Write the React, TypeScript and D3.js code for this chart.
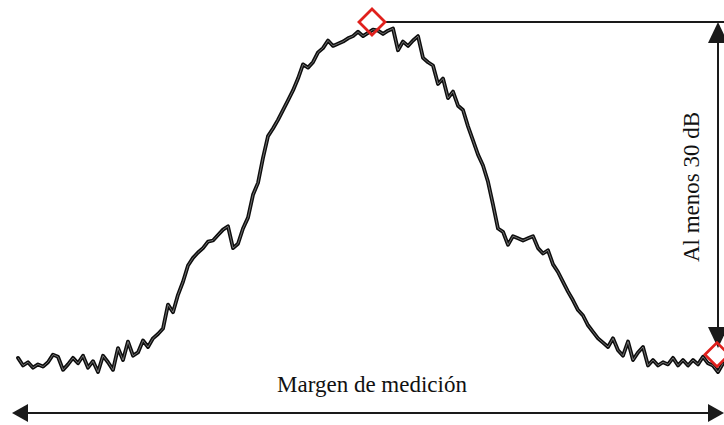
import React from "react";
import * as d3 from "d3";

// Measured trace level (dB relative to the peak), one value per sweep sample
const levelDb: number[] = [
  -30.9, -31.6, -31.3, -31.8, -31.5, -31.7, -31.3, -30.6, -30.8, -32.0,
  -31.5, -30.9, -31.4, -30.7, -31.8, -31.2, -32.2, -30.7, -31.3, -32.0,
  -30.0, -31.1, -29.4, -30.7, -30.4, -29.3, -29.9, -29.1, -28.7, -28.2,
  -26.0, -26.7, -25.1, -23.9, -22.4, -21.7, -21.2, -20.8, -20.2, -20.1,
  -19.6, -19.1, -18.8, -20.8, -20.4, -19.0, -18.0, -15.9, -14.8, -12.5,
  -10.5, -9.8, -9.0, -8.1, -7.2, -6.3, -5.2, -3.9, -4.2, -3.7,
  -2.8, -2.4, -1.7, -2.2, -2.0, -1.8, -1.5, -1.3, -0.9, -1.3,
  -1.0, -0.7, -0.8, -1.1, -0.8, -0.6, -2.6, -1.8, -2.2, -1.7,
  -1.3, -3.3, -3.7, -4.0, -5.7, -5.2, -7.0, -6.4, -7.7, -8.1,
  -9.6, -10.9, -12.2, -13.2, -14.7, -16.8, -19.0, -19.3, -20.5, -19.7,
  -19.9, -20.1, -19.9, -19.7, -20.8, -21.3, -21.0, -22.3, -23.0, -23.9,
  -24.8, -25.6, -26.5, -27.0, -27.9, -28.5, -29.1, -29.5, -29.9, -29.1,
  -30.2, -30.7, -29.4, -31.1, -30.4, -29.9, -31.6, -31.1, -31.6, -31.3,
  -31.5, -30.9, -31.6, -31.1, -31.6, -31.1, -31.5, -30.8, -31.4, -31.6,
  -32.2, -31.4,
];

// Annotation values
const peakMarker = { sample: 70.8, level: 0 };
const floorMarker = { sample: 139.8, level: -30.6 };
const rangeArrow = { top: 0, bottom: -30 };
const rangeLabel = "Al menos 30 dB";
const spanLabel = "Margen de medición";

const W = 724;
const H = 425;

export default function App() {
  const x = d3.scaleLinear().domain([0, levelDb.length - 1]).range([18, 723]);
  const y = d3.scaleLinear().domain([0, -30]).range([22, 348.1]);

  const line = d3
    .line<number>()
    .x((_, i) => x(i))
    .y((d) => y(d))
    .curve(d3.curveLinear);
  const path = line(levelDb) || "";

  const diamond = (cx: number, cy: number, r: number) =>
    `M${cx},${cy - r}L${cx + r},${cy}L${cx},${cy + r}L${cx - r},${cy}Z`;

  const px = x(peakMarker.sample);
  const py = y(peakMarker.level);
  const fx = x(floorMarker.sample);
  const fy = y(floorMarker.level);
  const ax = 718;
  const aTop = y(rangeArrow.top);
  const aBot = y(rangeArrow.bottom);
  const hy = 413;
  const lineColor = "#1a1a1a";

  return (
    <svg
      width={W}
      height={H}
      style={{ position: "absolute", left: 0, top: 0, background: "#fff" }}
      fontFamily="'Liberation Serif', 'Times New Roman', serif"
    >
      {/* horizontal reference from peak */}
      <line x1={px + 13} y1={py} x2={W} y2={py} stroke={lineColor} strokeWidth={2} />
      {/* vertical dynamic range arrow */}
      <line x1={ax} y1={aTop + 18} x2={ax} y2={aBot - 18} stroke={lineColor} strokeWidth={2} />
      <path d={`M${ax},${aTop}L${ax + 10},${aTop + 21}L${ax - 10},${aTop + 21}Z`} fill={lineColor} />
      <path d={`M${ax},${aBot}L${ax + 10},${aBot - 21}L${ax - 10},${aBot - 21}Z`} fill={lineColor} />

      {/* trace */}
      <path d={path} fill="none" stroke="#0d0d0d" strokeWidth={3.8} strokeLinejoin="round" strokeLinecap="round" />
      <path d={path} fill="none" stroke="#fff" strokeWidth={0.8} strokeOpacity={0.5} strokeLinejoin="round" />

      {/* markers */}
      <path d={diamond(px, py, 13)} fill="none" stroke="#e0201c" strokeWidth={2.8} />
      <path d={diamond(fx, fy, 12)} fill="none" stroke="#e0201c" strokeWidth={2.8} />

      {/* bottom span arrow */}
      <line x1={20} y1={hy} x2={W - 10} y2={hy} stroke={lineColor} strokeWidth={2} />
      <path d={`M12,${hy}L28,${hy - 9}L28,${hy + 9}Z`} fill={lineColor} />
      <path d={`M${W},${hy}L${W - 16},${hy - 9}L${W - 16},${hy + 9}Z`} fill={lineColor} />

      <text x={372} y={392} textAnchor="middle" fontSize={23} fill="#111">
        {spanLabel}
      </text>
      <text
        transform={`translate(699,${(aTop + aBot) / 2 + 2}) rotate(-90)`}
        textAnchor="middle"
        fontSize={23}
        fill="#111"
      >
        {rangeLabel}
      </text>
    </svg>
  );
}
